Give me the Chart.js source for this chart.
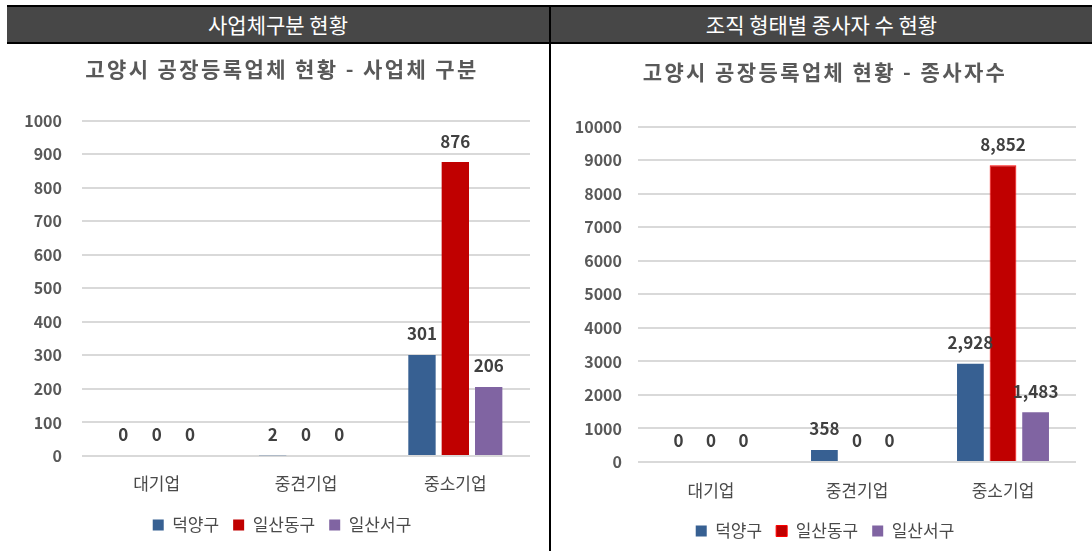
<!DOCTYPE html>
<html>
<head>
<meta charset="utf-8">
<script src="https://cdn.jsdelivr.net/npm/chart.js@4/dist/chart.umd.min.js"></script>
<style>
  html, body { margin: 0; padding: 0; background: #fff; width: 1092px; height: 551px; overflow: hidden; font-family: "Noto Sans CJK KR", "Noto Sans", sans-serif; }
  .hdr { position: absolute; left: 7px; top: 5px; width: 1085px; height: 35px; background: #474747; border-top: 2px solid #000; border-bottom: 2px solid #000; }
  .hdr span { position: absolute; top: 0; height: 35px; line-height: 35px; color: #fff; font-size: 21px; text-align: center; }
  .vline { position: absolute; left: 549px; top: 5px; width: 2px; height: 546px; background: #000; }
  .box { position: absolute; }
</style>
</head>
<body>
<div class="hdr">
  <span style="left:0; width:542px;">사업체구분 현황</span>
  <span style="left:544px; width:541px;">조직 형태별 종사자 수 현황</span>
</div>
<div class="vline"></div>
<div class="box" style="left:14px; top:44px; width:535px; height:507px;"><canvas id="c1"></canvas></div>
<div class="box" style="left:556px; top:44px; width:536px; height:507px;"><canvas id="c2"></canvas></div>
<script>
const categories = ['대기업', '중견기업', '중소기업'];
const seriesNames = ['덕양구', '일산동구', '일산서구'];
const firmsDeogyang = [0, 2, 301];
const firmsIlsanDong = [0, 0, 876];
const firmsIlsanSeo = [0, 0, 206];
const workersDeogyang = [0, 358, 2928];
const workersIlsanDong = [0, 0, 8852];
const workersIlsanSeo = [0, 0, 1483];
const title1 = '고양시 공장등록업체 현황 - 사업체 구분';
const title2 = '고양시 공장등록업체 현황 - 종사자수';

const colors = ['#376092', '#c00000', '#8064a2'];
const FONT = '"Noto Sans CJK KR", "Noto Sans", sans-serif';

const valueLabels = {
  id: 'valueLabels',
  afterDatasetsDraw(chart) {
    const ctx = chart.ctx;
    ctx.save();
    ctx.font = 'bold 17px ' + FONT;
    ctx.fillStyle = '#404040';
    ctx.textAlign = 'center';
    ctx.textBaseline = 'middle';
    chart.data.datasets.forEach((ds, i) => {
      const meta = chart.getDatasetMeta(i);
      meta.data.forEach((el, j) => {
        const v = ds.data[j];
        ctx.fillText(v.toLocaleString('en-US'), el.x, el.y - 21);
      });
    });
    ctx.restore();
  }
};

const spacedTitle = {
  id: 'spacedTitle',
  afterInit(chart) {
    const tb = chart.titleBlock;
    if (!tb) return;
    const orig = tb.draw;
    tb.draw = function () {
      const ctx = chart.ctx;
      ctx.save();
      ctx.letterSpacing = '2.4px';
      orig.apply(this, arguments);
      ctx.restore();
    };
  },
  afterLayout(chart) {
    const shift = chart.options.plugins.spacedTitle.shift || 0;
    [chart.titleBlock, chart.legend].forEach((b) => {
      if (b) { b.left += shift; b.right += shift; }
    });
  }
};

function makeChart(id, title, data, max, step, opts) {
  const datasets = seriesNames.map((n, i) => ({
    label: n,
    data: data[i],
    backgroundColor: colors[i],
    borderColor: (opts.redBorder && i === 1) ? '#ff0000' : colors[i],
    borderWidth: (opts.redBorder && i === 1) ? 1 : 0,
    categoryPercentage: 0.67,
    barPercentage: 0.82
  }));
  return new Chart(document.getElementById(id), {
    type: 'bar',
    data: { labels: categories, datasets },
    options: {
      responsive: true,
      maintainAspectRatio: false,
      animation: false,
      layout: { padding: { left: 0, right: opts.padRight, top: 0, bottom: opts.padBottom } },
      plugins: {
        spacedTitle: { shift: opts.shift },
        title: { display: true, text: title, color: '#595959', font: { family: FONT, size: 21, weight: 'bold' }, padding: { top: opts.titleTop, bottom: opts.titleBottom } },
        legend: {
          position: 'bottom',
          labels: { color: '#4a4a4a', font: { family: FONT, size: 17 }, boxWidth: 11, boxHeight: 11, padding: 14 }
        },
        tooltip: { enabled: false }
      },
      scales: {
        x: {
          afterFit: (s) => { s.height = opts.xHeight; },
          grid: { display: false, drawTicks: false },
          border: { display: false },
          ticks: { color: '#4a4a4a', font: { family: FONT, size: 17 }, padding: opts.xPad }
        },
        y: {
          min: 0, max: max,
          afterFit: (s) => { s.width = opts.yWidth; },
          grid: { color: '#d9d9d9', lineWidth: 2, drawTicks: false },
          border: { display: false },
          ticks: { stepSize: step, color: '#595959', font: { family: FONT, size: 16, weight: 'bold' }, padding: opts.yPad, callback: (v) => String(v) }
        }
      }
    },
    plugins: [valueLabels, spacedTitle]
  });
}

makeChart('c1', title1, [firmsDeogyang, firmsIlsanDong, firmsIlsanSeo], 1000, 100,
  { shift: 10, padRight: 19, padBottom: 7.5, titleTop: 12.8, titleBottom: 38.5, xPad: 17, xHeight: 46.5, yWidth: 68, yPad: 20, redBorder: false });
makeChart('c2', title2, [workersDeogyang, workersIlsanDong, workersIlsanSeo], 10000, 1000,
  { shift: 9, padRight: 16, padBottom: 1.5, titleTop: 15.8, titleBottom: 41.8, xPad: 18, xHeight: 46.5, yWidth: 82, yPad: 16, redBorder: true });
</script>
</body>
</html>
